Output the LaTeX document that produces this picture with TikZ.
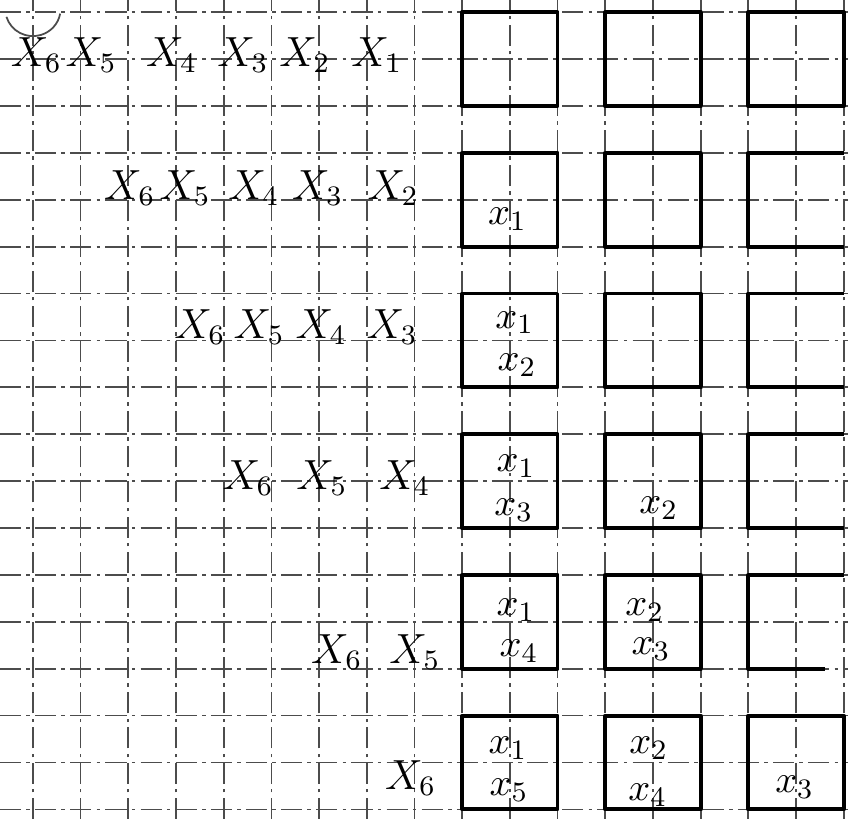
\documentclass[tikz,border=0pt]{standalone}
\usepackage{tikz}

\begin{document}
\begin{tikzpicture}[x=0.477cm, y=0.469cm,
  gridline/.style={black!70, line width=0.5pt, dash pattern=on 6pt off 1.5pt on 1pt off 1.5pt},
  box/.style={line width=1.1pt, line join=round},
  lbl/.style={font=\fontsize{11.5}{14}\selectfont, inner sep=0pt},
  val/.style={font=\fontsize{11}{13}\selectfont, inner sep=0pt}]
  \useasboundingbox (-0.69,0.26) rectangle (17.09,-17.2);
  \fill[white] (-0.69,0.26) rectangle (17.09,-17.2);
  \draw[gridline, xstep=0.477cm, ystep=0.469cm] (-0.69,0.26) grid (17.09,-17.2);
  \draw[black!70, line width=0.5pt] (0,0.07) ++(197:0.58) arc[start angle=197, end angle=350, radius=0.58];
  % row 1
  \node[lbl] (q1x6) at (0.07,-0.92) {$X_6$};
  \node[lbl] (q1x5) at (1.22,-0.92) {$X_5$};
  \node[lbl] (q1x4) at (2.91,-0.92) {$X_4$};
  \node[lbl] (q1x3) at (4.40,-0.92) {$X_3$};
  \node[lbl] (q1x2) at (5.70,-0.92) {$X_2$};
  \node[lbl] (q1x1) at (7.21,-0.92) {$X_1$};
  \draw[box] (9,0) rectangle (11,-2);
  \draw[box] (12,0) rectangle (14,-2);
  \draw[box] (15,0) rectangle (17,-2);
  % row 2
  \node[lbl] (q2x6) at (2.03,-3.75) {$X_6$};
  \node[lbl] (q2x5) at (3.19,-3.75) {$X_5$};
  \node[lbl] (q2x4) at (4.63,-3.75) {$X_4$};
  \node[lbl] (q2x3) at (5.97,-3.75) {$X_3$};
  \node[lbl] (q2x2) at (7.55,-3.75) {$X_2$};
  \draw[box] (9,-3) rectangle (11,-5);
  \draw[box] (12,-3) rectangle (14,-5);
  \draw[box] (17,-3) -- (15,-3) -- (15,-5) -- (17,-5);
  \node[val] (b2x1) at (9.95,-4.42) {$x_1$};
  % row 3
  \node[lbl] (q3x6) at (3.50,-6.72) {$X_6$};
  \node[lbl] (q3x5) at (4.74,-6.72) {$X_5$};
  \node[lbl] (q3x4) at (6.04,-6.72) {$X_4$};
  \node[lbl] (q3x3) at (7.53,-6.72) {$X_3$};
  \draw[box] (9,-6) rectangle (11,-8);
  \draw[box] (12,-6) rectangle (14,-8);
  \draw[box] (17,-6) -- (15,-6) -- (15,-8) -- (17,-8);
  \node[val] (b3x1) at (10.10,-6.62) {$x_1$};
  \node[val] (b3x2) at (10.15,-7.52) {$x_2$};
  % row 4
  \node[lbl] (q4x6) at (4.51,-9.94) {$X_6$};
  \node[lbl] (q4x5) at (6.06,-9.94) {$X_5$};
  \node[lbl] (q4x4) at (7.80,-9.94) {$X_4$};
  \draw[box] (9,-9) rectangle (11,-11);
  \draw[box] (12,-9) rectangle (14,-11);
  \draw[box] (17,-9) -- (15,-9) -- (15,-11) -- (17,-11);
  \node[val] (b4x1) at (10.13,-9.68) {$x_1$};
  \node[val] (b4x3) at (10.08,-10.62) {$x_3$};
  \node[val] (b4x2) at (13.12,-10.58) {$x_2$};
  % row 5
  \node[lbl] (q5x6) at (6.37,-13.65) {$X_6$};
  \node[lbl] (q5x5) at (8.01,-13.65) {$X_5$};
  \draw[box] (9,-12) rectangle (11,-14);
  \draw[box] (12,-12) rectangle (14,-14);
  \draw[box] (17,-12) -- (15,-12) -- (15,-14) -- (16.6,-14);
  \node[val] (b5x1) at (10.13,-12.75) {$x_1$};
  \node[val] (b5x4) at (10.19,-13.62) {$x_4$};
  \node[val] (b5x2) at (12.83,-12.75) {$x_2$};
  \node[val] (b5x3) at (12.96,-13.58) {$x_3$};
  % row 6
  \node[lbl] (q6x6) at (7.92,-16.33) {$X_6$};
  \draw[box] (9,-15) rectangle (11,-17);
  \draw[box] (12,-15) rectangle (14,-17);
  \draw[box] (15,-15) rectangle (17,-17);
  \node[val] (b6x1) at (9.96,-15.69) {$x_1$};
  \node[val] (b6x5) at (9.98,-16.59) {$x_5$};
  \node[val] (b6x2) at (12.91,-15.69) {$x_2$};
  \node[val] (b6x4) at (12.89,-16.69) {$x_4$};
  \node[val] (b6x3) at (15.97,-16.52) {$x_3$};
\end{tikzpicture}
\end{document}
